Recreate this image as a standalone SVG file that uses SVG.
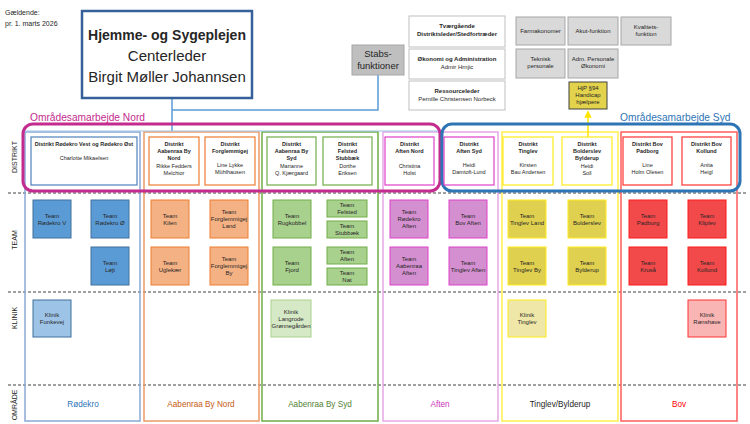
<svg xmlns="http://www.w3.org/2000/svg" width="750" height="424" viewBox="0 0 750 424">
<defs>
<marker id="ya" viewBox="0 0 10 10" refX="5" refY="5" markerWidth="5" markerHeight="5" orient="auto"><path d="M0,0 L10,5 L0,10 z" fill="#ffe600"/></marker>
<style>
text{font-family:"Liberation Sans",Arial,sans-serif;fill:#262626}
.c{text-anchor:middle}
.s{font-size:5.5px}
.t{font-size:6px}
.b{font-weight:bold}
.rl{font-size:7px;text-anchor:middle}
.col{fill:none;stroke-width:1.5}
.wb{fill:#fff;stroke:#bfbfbf;stroke-width:1}
.gb{fill:#d9d9d9;stroke:#a6a6a6;stroke-width:1}
.dash{stroke:#404040;stroke-width:1;stroke-dasharray:3,2;fill:none}
.dro{fill:#fff;stroke:#4f81bd;stroke-width:1.2}
.dor{fill:#fff;stroke:#ed7d31;stroke-width:1.2}
.dgr{fill:#fff;stroke:#70ad47;stroke-width:1.2}
.dpk{fill:#fff;stroke:#e040c8;stroke-width:1.2}
.dye{fill:#fff;stroke:#ffeb1a;stroke-width:1.2}
.drd{fill:#fff;stroke:#ff3333;stroke-width:1.2}
.tbl{fill:#5b9bd5;stroke:#41719c}
.tor{fill:#f4b183;stroke:#ed7d31}
.tgr{fill:#a9d18e;stroke:#70ad47}
.tpk{fill:#d48fd0;stroke:#e040c8}
.tye{fill:#e0d050;stroke:#ffeb1a}
.trd{fill:#f24a4a;stroke:#ff1a1a}
</style>
</defs>
<rect width="750" height="424" fill="#fff"/>

<text x="5" y="15" font-size="7">Gældende:</text>
<text x="5" y="26" font-size="7">pr. 1. marts 2026</text>

<!-- dashed row separators -->
<line class="dash" x1="8" y1="193" x2="746" y2="193"/>
<line class="dash" x1="8" y1="292" x2="746" y2="292"/>
<line class="dash" x1="8" y1="385" x2="746" y2="385"/>

<!-- row labels -->
<text class="rl" transform="translate(17,157) rotate(-90)">DISTRIKT</text>
<text class="rl" transform="translate(17,240) rotate(-90)">TEAM</text>
<text class="rl" transform="translate(17,318) rotate(-90)">KLINIK</text>
<text class="rl" transform="translate(17,405) rotate(-90)">OMRÅDE</text>

<!-- area columns -->
<g id="omr-rodekro"><rect class="col" x="25" y="132" width="115" height="289" stroke="#8aa9d6"/><text class="c" x="83" y="407" font-size="8.2" style="fill:#2e75b6">Rødekro</text></g>
<g id="omr-aabenraa-nord"><rect class="col" x="144" y="132" width="115" height="289" stroke="#eb9a66"/><text class="c" x="201" y="407" font-size="8.2" style="fill:#c55a11">Aabenraa By Nord</text></g>
<g id="omr-aabenraa-syd"><rect class="col" x="262" y="132" width="116" height="289" stroke="#70ad47"/><text class="c" x="320" y="407" font-size="8.2" style="fill:#548235">Aabenraa By Syd</text></g>
<g id="omr-aften"><rect class="col" x="383" y="132" width="115" height="289" stroke="#e6a8e6"/><text class="c" x="440" y="407" font-size="8.2" style="fill:#cc33bb">Aften</text></g>
<g id="omr-tinglev"><rect class="col" x="502" y="132" width="116" height="289" stroke="#ffef4d"/><text class="c" x="560" y="407" font-size="8.2">Tinglev/Bylderup</text></g>
<g id="omr-bov"><rect class="col" x="621" y="132" width="116" height="289" stroke="#ff5c5c"/><text class="c" x="679" y="407" font-size="8.2" style="fill:#ff0000">Bov</text></g>

<!-- connectors -->
<g id="connectors" fill="none">
<polyline points="378,75 378,110 172,110" stroke="#5b9bd5" stroke-width="1.5"/>
<line x1="172" y1="98" x2="172" y2="131" stroke="#5b9bd5" stroke-width="1.5"/>
<line x1="25" y1="131" x2="440" y2="131" stroke="#9dc3e6" stroke-width="1"/>
<line x1="588" y1="137" x2="588" y2="114" stroke="#ffe600" stroke-width="1.5" marker-end="url(#ya)"/>
</g>

<!-- title -->
<g id="centerleder">
<rect x="82" y="11" width="170" height="87" fill="#fff" stroke="#36609a" stroke-width="2.5"/>
<text class="c b" x="167" y="40" font-size="14">Hjemme- og Sygeplejen</text>
<text class="c" x="167" y="61" font-size="15">Centerleder</text>
<text class="c" x="167" y="82" font-size="15">Birgit Møller Johannsen</text>
</g>

<g id="stabs">
<rect x="352" y="45" width="52" height="30" fill="#bfbfbf" stroke="#a6a6a6"/>
<text class="c" x="378" y="57" font-size="9.5">Stabs-</text>
<text class="c" x="378" y="69" font-size="9.5">funktioner</text>
</g>

<g id="tvaergaaende"><rect class="wb" x="409" y="16" width="96" height="31"/>
<text class="c t b" x="457" y="28">Tværgående</text><text class="c t b" x="457" y="36">Distriktsleder/Stedfortræder</text></g>
<g id="oekonomi"><rect class="wb" x="409" y="49" width="96" height="30"/>
<text class="c t b" x="457" y="61">Økonomi og Administration</text><text class="c t" x="457" y="69">Admir Hrnjic</text></g>
<g id="ressourceleder"><rect class="wb" x="409" y="81" width="96" height="29"/>
<text class="c t b" x="457" y="93">Ressourceleder</text><text class="c t" x="457" y="101">Pernille Christensen Norbeck</text></g>

<g id="farmakonomer"><rect class="gb" x="516" y="17" width="49" height="28"/><text class="c t" x="540.5" y="33">Farmakonomer</text></g>
<g id="akut"><rect class="gb" x="568" y="17" width="50" height="28"/><text class="c t" x="593" y="33">Akut-funktion</text></g>
<g id="kvalitet"><rect class="gb" x="621" y="17" width="50" height="28"/><text class="c t" x="646" y="29">Kvalitets-</text><text class="c t" x="646" y="36">funktion</text></g>
<g id="teknisk"><rect class="gb" x="516" y="49" width="49" height="29"/><text class="c t" x="540.5" y="61">Teknisk</text><text class="c t" x="540.5" y="68">personale</text></g>
<g id="adm"><rect class="gb" x="568" y="49" width="50" height="29"/><text class="c t" x="593" y="61">Adm. Personale</text><text class="c t" x="593" y="68">Økonomi</text></g>
<g id="hjp"><rect x="569" y="82" width="38" height="27" fill="#e2d24c" stroke="#404040" stroke-width="1"/>
<text class="c t" x="588" y="90">HjP §94</text><text class="c t" x="588" y="97">Handicap</text><text class="c t" x="588" y="104">hjælpere</text></g>

<!-- area cooperation frames -->
<g id="omraade-nord">
<rect x="23" y="124" width="417" height="67" rx="10" fill="none" stroke="#c42b8e" stroke-width="3"/>
<text x="30" y="121" font-size="10.2" style="fill:#c42b8e">Områdesamarbejde Nord</text>
</g>
<g id="omraade-syd">
<rect x="442" y="124" width="298" height="67" rx="10" fill="none" stroke="#2e75b6" stroke-width="3"/>
<text x="620" y="121" font-size="10.2" style="fill:#2e75b6">Områdesamarbejde Syd</text>
</g>

<!-- districts -->
<g id="d-rodekro"><rect class="dro" x="31" y="137" width="106" height="48"/>
<text class="c s b" x="84" y="146">Distrikt Rødekro Vest og Rødekro Øst</text><text class="c s" x="84" y="160">Charlotte Mikaelsen</text></g>
<g id="d-aabenraa-nord"><rect class="dor" x="149" y="137" width="50" height="48"/>
<text class="c s b" x="174" y="146">Distrikt</text><text class="c s b" x="174" y="153">Aabenraa By</text><text class="c s b" x="174" y="160">Nord</text>
<text class="c s" x="174" y="168">Rikke Fedders</text><text class="c s" x="174" y="175">Melchior</text></g>
<g id="d-forglemmigej"><rect class="dor" x="205" y="137" width="50" height="48"/>
<text class="c s b" x="230" y="146">Distrikt</text><text class="c s b" x="230" y="153">Forglemmigej</text>
<text class="c s" x="230" y="167">Line Lykke</text><text class="c s" x="230" y="174">Mühlhausen</text></g>
<g id="d-aabenraa-syd"><rect class="dgr" x="267" y="137" width="49" height="48"/>
<text class="c s b" x="291.5" y="146">Distrikt</text><text class="c s b" x="291.5" y="153">Aabenraa By</text><text class="c s b" x="291.5" y="160">Syd</text>
<text class="c s" x="291.5" y="168">Marianne</text><text class="c s" x="291.5" y="175">Q. Kjærgaard</text></g>
<g id="d-felsted"><rect class="dgr" x="323" y="137" width="49" height="48"/>
<text class="c s b" x="347.5" y="146">Distrikt</text><text class="c s b" x="347.5" y="153">Felsted</text><text class="c s b" x="347.5" y="160">Stubbæk</text>
<text class="c s" x="347.5" y="168">Dorthe</text><text class="c s" x="347.5" y="175">Eriksen</text></g>
<g id="d-aften-nord"><rect class="dpk" x="385" y="137" width="49" height="48"/>
<text class="c s b" x="409.5" y="146">Distrikt</text><text class="c s b" x="409.5" y="153">Aften Nord</text>
<text class="c s" x="409.5" y="168">Christina</text><text class="c s" x="409.5" y="175">Holst</text></g>
<g id="d-aften-syd"><rect class="dpk" x="444" y="137" width="50" height="48"/>
<text class="c s b" x="469" y="146">Distrikt</text><text class="c s b" x="469" y="153">Aften Syd</text>
<text class="c s" x="469" y="167">Heidi</text><text class="c s" x="469" y="174">Damtoft-Lund</text></g>
<g id="d-tinglev"><rect class="dye" x="503" y="137" width="50" height="48"/>
<text class="c s b" x="528" y="146">Distrikt</text><text class="c s b" x="528" y="153">Tinglev</text>
<text class="c s" x="528" y="167">Kirsten</text><text class="c s" x="528" y="174">Bau Andersen</text></g>
<g id="d-bolderslev"><rect class="dye" x="562" y="137" width="50" height="48"/>
<text class="c s b" x="587" y="146">Distrikt</text><text class="c s b" x="587" y="153">Bolderslev</text><text class="c s b" x="587" y="160">Bylderup</text>
<text class="c s" x="587" y="168">Heidi</text><text class="c s" x="587" y="175">Soll</text></g>
<g id="d-bov-padborg"><rect class="drd" x="623" y="137" width="49" height="48"/>
<text class="c s b" x="647.5" y="146">Distrikt Bov</text><text class="c s b" x="647.5" y="153">Padborg</text>
<text class="c s" x="647.5" y="167">Line</text><text class="c s" x="647.5" y="174">Holm Olesen</text></g>
<g id="d-bov-kollund"><rect class="drd" x="682" y="137" width="49" height="48"/>
<text class="c s b" x="706.5" y="146">Distrikt Bov</text><text class="c s b" x="706.5" y="153">Kollund</text>
<text class="c s" x="706.5" y="167">Anita</text><text class="c s" x="706.5" y="174">Heigl</text></g>

<!-- teams -->
<g id="t-rodekro-v"><rect class="tbl" x="33" y="200" width="38" height="38"/><text class="c t" x="52" y="217.5">Team</text><text class="c t" x="52" y="224.5">Rødekro V</text></g>
<g id="t-rodekro-o"><rect class="tbl" x="91" y="200" width="38" height="38"/><text class="c t" x="110" y="217.5">Team</text><text class="c t" x="110" y="224.5">Rødekro Ø</text></g>
<g id="t-lojt"><rect class="tbl" x="91" y="247" width="38" height="38"/><text class="c t" x="110" y="264.5">Team</text><text class="c t" x="110" y="271.5">Løjt</text></g>

<g id="t-kilen"><rect class="tor" x="151" y="200" width="38" height="38"/><text class="c t" x="170" y="217.5">Team</text><text class="c t" x="170" y="224.5">Kilen</text></g>
<g id="t-forglemmigej-land"><rect class="tor" x="210" y="200" width="38" height="38"/><text class="c t" x="229" y="214">Team</text><text class="c t" x="229" y="221">Forglemmigej</text><text class="c t" x="229" y="228">Land</text></g>
<g id="t-uglekaer"><rect class="tor" x="151" y="247" width="38" height="38"/><text class="c t" x="170" y="264.5">Team</text><text class="c t" x="170" y="271.5">Uglekær</text></g>
<g id="t-forglemmigej-by"><rect class="tor" x="210" y="247" width="38" height="38"/><text class="c t" x="229" y="261">Team</text><text class="c t" x="229" y="268">Forglemmigej</text><text class="c t" x="229" y="275">By</text></g>

<g id="t-rugkobbel"><rect class="tgr" x="273" y="200" width="38" height="38"/><text class="c t" x="292" y="217.5">Team</text><text class="c t" x="292" y="224.5">Rugkobbel</text></g>
<g id="t-felsted"><rect class="tgr" x="327" y="200" width="40" height="17"/><text class="c t" x="347" y="207">Team</text><text class="c t" x="347" y="214">Felsted</text></g>
<g id="t-stubbaek"><rect class="tgr" x="327" y="221" width="40" height="17"/><text class="c t" x="347" y="228">Team</text><text class="c t" x="347" y="235">Stubbæk</text></g>
<g id="t-fjord"><rect class="tgr" x="273" y="247" width="38" height="38"/><text class="c t" x="292" y="264.5">Team</text><text class="c t" x="292" y="271.5">Fjord</text></g>
<g id="t-aften"><rect class="tgr" x="327" y="247" width="40" height="17"/><text class="c t" x="347" y="254">Team</text><text class="c t" x="347" y="261">Aften</text></g>
<g id="t-nat"><rect class="tgr" x="327" y="268" width="40" height="17"/><text class="c t" x="347" y="275">Team</text><text class="c t" x="347" y="282">Nat</text></g>

<g id="t-rodekro-aften"><rect class="tpk" x="390" y="200" width="38" height="38"/><text class="c t" x="409" y="214">Team</text><text class="c t" x="409" y="221">Rødekro</text><text class="c t" x="409" y="228">Aften</text></g>
<g id="t-bov-aften"><rect class="tpk" x="449" y="200" width="38" height="38"/><text class="c t" x="468" y="217.5">Team</text><text class="c t" x="468" y="224.5">Bov Aften</text></g>
<g id="t-aabenraa-aften"><rect class="tpk" x="390" y="247" width="38" height="38"/><text class="c t" x="409" y="261">Team</text><text class="c t" x="409" y="268">Aabenraa</text><text class="c t" x="409" y="275">Aften</text></g>
<g id="t-tinglev-aften"><rect class="tpk" x="449" y="247" width="38" height="38"/><text class="c t" x="468" y="264.5">Team</text><text class="c t" x="468" y="271.5">Tinglev Aften</text></g>

<g id="t-tinglev-land"><rect class="tye" x="508" y="200" width="38" height="38"/><text class="c t" x="527" y="217.5">Team</text><text class="c t" x="527" y="224.5">Tinglev Land</text></g>
<g id="t-bolderslev"><rect class="tye" x="568" y="200" width="38" height="38"/><text class="c t" x="587" y="217.5">Team</text><text class="c t" x="587" y="224.5">Bolderslev</text></g>
<g id="t-tinglev-by"><rect class="tye" x="508" y="247" width="38" height="38"/><text class="c t" x="527" y="264.5">Team</text><text class="c t" x="527" y="271.5">Tinglev By</text></g>
<g id="t-bylderup"><rect class="tye" x="568" y="247" width="38" height="38"/><text class="c t" x="587" y="264.5">Team</text><text class="c t" x="587" y="271.5">Bylderup</text></g>

<g id="t-padborg"><rect class="trd" x="629" y="200" width="38" height="38"/><text class="c t" x="648" y="217.5">Team</text><text class="c t" x="648" y="224.5">Padborg</text></g>
<g id="t-kliplev"><rect class="trd" x="688" y="200" width="38" height="38"/><text class="c t" x="707" y="217.5">Team</text><text class="c t" x="707" y="224.5">Kliplev</text></g>
<g id="t-krusaa"><rect class="trd" x="629" y="247" width="38" height="38"/><text class="c t" x="648" y="264.5">Team</text><text class="c t" x="648" y="271.5">Kruså</text></g>
<g id="t-kollund"><rect class="trd" x="688" y="247" width="38" height="38"/><text class="c t" x="707" y="264.5">Team</text><text class="c t" x="707" y="271.5">Kollund</text></g>

<!-- klinik -->
<g id="k-funkevej"><rect x="33" y="300" width="38" height="37" fill="#9dc3e6" stroke="#41719c"/><text class="c t" x="52" y="317">Klinik</text><text class="c t" x="52" y="324">Funkevej</text></g>
<g id="k-langrode"><rect x="271" y="300" width="40" height="37" fill="#d6e9c6" stroke="#a9d18e"/><text class="c t" x="291" y="313.5">Klinik</text><text class="c t" x="291" y="320.5">Langrode</text><text class="c t" x="291" y="327.5">Grønnegården</text></g>
<g id="k-tinglev"><rect x="508" y="300" width="38" height="37" fill="#efe7a8" stroke="#ffeb1a"/><text class="c t" x="527" y="317">Klinik</text><text class="c t" x="527" y="324">Tinglev</text></g>
<g id="k-ronshave"><rect x="688" y="300" width="38" height="37" fill="#f9b4b4" stroke="#ff3333"/><text class="c t" x="707" y="317">Klinik</text><text class="c t" x="707" y="324">Rønshave</text></g>
</svg>
